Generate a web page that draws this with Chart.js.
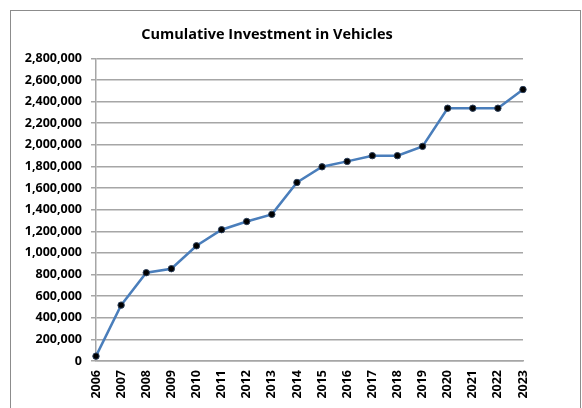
<!DOCTYPE html>
<html>
<head>
<meta charset="utf-8">
<script src="https://cdn.jsdelivr.net/npm/chart.js@4"></script>
<style>
    html, body { margin: 0; padding: 0; background: #fff; }
    body { width: 582px; height: 408px; position: relative; overflow: hidden; }
    .frame {
        position: absolute; left: 10px; top: 10px;
        width: 569px; height: 420px;
        border: 1px solid #8c8c8c;
    }
    .chart-box { position: absolute; left: 0; top: 0; width: 532px; height: 408px; }
</style>
</head>
<body>
<div class="frame"></div>
<div class="chart-box"><canvas id="vehChart" width="532" height="408"></canvas></div>
<script>
// chart data
const years = ['2006', '2007', '2008', '2009', '2010', '2011', '2012', '2013', '2014',
    '2015', '2016', '2017', '2018', '2019', '2020', '2021', '2022', '2023'];
const cumulativeInvestment = [45000, 517000, 817000, 854000, 1066000, 1215000, 1291000, 1357000, 1652000,
    1797000, 1847000, 1900000, 1900000, 1986000, 2339000, 2339000, 2339000, 2512000];
const yTickMax = 2800000;
const yTickStep = 200000;

document.addEventListener('DOMContentLoaded', () => {
    const ctx = document.getElementById('vehChart');
    const gridColor = '#a6a6a6';
    const tickFont = { family: '"Open Sans", sans-serif', size: 12.5, weight: '700' };

    new Chart(ctx, {
        type: 'line',
        data: {
            labels: years,
            datasets: [{
                label: 'Cumulative Investment',
                data: cumulativeInvestment,
                borderColor: '#4a7ebb',
                borderWidth: 2.5,
                tension: 0,
                pointRadius: 3.2,
                pointBackgroundColor: '#000',
                pointBorderColor: '#2b3f5a',
                pointBorderWidth: 1
            }]
        },
        options: {
            responsive: false,
            animation: false,
            // left padding only shifts the title box; y axis width makes up the rest
            layout: { padding: { left: 11, right: 9, top: 0, bottom: 0 } },
            plugins: {
                legend: { display: false },
                tooltip: { enabled: false },
                title: {
                    display: true,
                    text: 'Cumulative Investment in Vehicles',
                    color: '#000',
                    font: { family: '"Open Sans", sans-serif', size: 14.5, weight: '700' },
                    padding: { top: 26, bottom: 15 }
                }
            },
            scales: {
                x: {
                    offset: false,
                    grid: { display: false, drawOnChartArea: false, drawTicks: true, tickLength: 5, color: gridColor },
                    border: { display: true, color: gridColor, width: 1.5 },
                    ticks: {
                        color: '#000',
                        font: tickFont,
                        minRotation: 90,
                        maxRotation: 90,
                        autoSkip: false,
                        padding: 4
                    },
                    afterFit: scale => {
                        scale.height = 47;
                        scale.paddingLeft = 0;
                        scale.paddingRight = 0;
                    }
                },
                y: {
                    min: 0,
                    max: yTickMax,
                    grid: { color: gridColor, lineWidth: 1.5, tickLength: 5 },
                    border: { display: true, color: gridColor, width: 1.5 },
                    ticks: {
                        stepSize: yTickStep,
                        color: '#000',
                        font: tickFont,
                        padding: 9,
                        callback: v => v.toLocaleString('en-US')
                    },
                    afterFit: scale => { scale.width = 85; }
                }
            }
        }
    });
});
</script>
</body>
</html>
